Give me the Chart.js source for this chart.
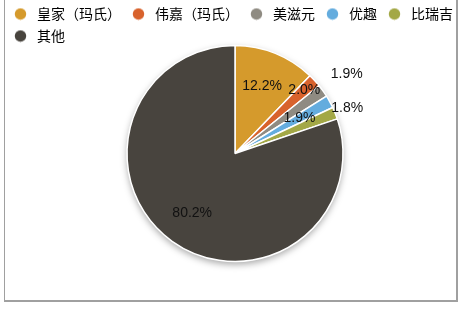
<!DOCTYPE html>
<html>
<head>
<meta charset="utf-8">
<script src="https://cdn.jsdelivr.net/npm/chart.js@4.4.0/dist/chart.umd.min.js"></script>
<style>
  html, body { margin: 0; padding: 0; background: #fff; }
  #wrap { position: relative; width: 461px; height: 310px; }
  #frame {
    position: absolute; left: 4px; top: -2px; width: 451px; height: 302px;
    border-left: 1px solid #a0a0a0; border-right: 2px solid #a0a0a0; border-bottom: 2px solid #a0a0a0;
  }
  canvas { position: absolute; left: 0; top: 0; }
</style>
</head>
<body>
<div id="wrap">
  <div id="frame"></div>
  <canvas id="grafico" width="461" height="310"></canvas>
</div>
<script>
// datos del gráfico
const marcas = ['皇家（玛氏）', '伟嘉（玛氏）', '美滋元', '优趣', '比瑞吉', '其他'];
const cuota = [12.2, 2.0, 1.9, 1.9, 1.8, 80.2];
const etiquetas = ['12.2%', '2.0%', '1.9%', '1.9%', '1.8%', '80.2%'];

const colores = ['#d59a2c', '#d8622c', '#8f8b82', '#64acde', '#a3a846', '#48443e'];
// distancia de cada etiqueta respecto al radio
const distEtiqueta = [0.67, 0.87, 1.27, 0.68, 1.12, 0.68];

const FUENTE = '"Noto Sans CJK SC", "Noto Sans", sans-serif';

function punto(color) {
  const c = document.createElement('canvas');
  c.width = 13; c.height = 13;
  const g = c.getContext('2d');
  g.fillStyle = color;
  g.beginPath();
  g.arc(6.5, 6.5, 5.7, 0, Math.PI * 2);
  g.fill();
  return c;
}

// mover el pastel un poco a la derecha sin tocar la leyenda
const desplazar = {
  id: 'desplazar',
  afterLayout(chart) {
    chart.chartArea.left += 6;
    chart.chartArea.width -= 6;
  }
};

// sombra debajo del pastel
const sombra = {
  id: 'sombra',
  beforeDatasetsDraw(chart) {
    const arc = chart.getDatasetMeta(0).data[0];
    if (!arc) return;
    const ctx = chart.ctx;
    ctx.save();
    ctx.shadowColor = 'rgba(0,0,0,0.35)';
    ctx.shadowBlur = 7;
    ctx.shadowOffsetY = 3;
    ctx.fillStyle = '#fff';
    ctx.beginPath();
    ctx.arc(arc.x, arc.y, arc.outerRadius, 0, Math.PI * 2);
    ctx.fill();
    ctx.restore();
  }
};

// porcentajes sobre las porciones
const textos = {
  id: 'textos',
  afterDatasetsDraw(chart) {
    const ctx = chart.ctx;
    ctx.save();
    ctx.font = '14px "Liberation Sans", Arial, sans-serif';
    ctx.fillStyle = '#111';
    ctx.textAlign = 'center';
    ctx.textBaseline = 'middle';
    chart.getDatasetMeta(0).data.forEach((arc, i) => {
      const a = (arc.startAngle + arc.endAngle) / 2;
      const r = arc.outerRadius * distEtiqueta[i];
      ctx.fillText(etiquetas[i], arc.x + Math.cos(a) * r, arc.y + Math.sin(a) * r);
    });
    ctx.restore();
  }
};

new Chart(document.getElementById('grafico'), {
  type: 'pie',
  data: {
    labels: marcas,
    datasets: [{
      data: cuota,
      backgroundColor: colores,
      borderColor: '#ffffff',
      borderWidth: 1.5,
      radius: 108
    }]
  },
  options: {
    responsive: false,
    animation: false,
    layout: { padding: { left: 3, right: 0, top: -1, bottom: 56 } },
    plugins: {
      tooltip: { enabled: false },
      legend: {
        position: 'top',
        align: 'start',
        labels: {
          font: { family: FUENTE, size: 14 },
          color: '#111',
          usePointStyle: true,
          pointStyleWidth: 19,
          padding: 8,
          generateLabels(chart) {
            return marcas.map((m, i) => ({
              text: m,
              fillStyle: colores[i],
              strokeStyle: colores[i],
              lineWidth: 0,
              pointStyle: punto(colores[i]),
              hidden: false,
              index: i
            }));
          }
        }
      }
    }
  },
  plugins: [desplazar, sombra, textos]
});
</script>
</body>
</html>
